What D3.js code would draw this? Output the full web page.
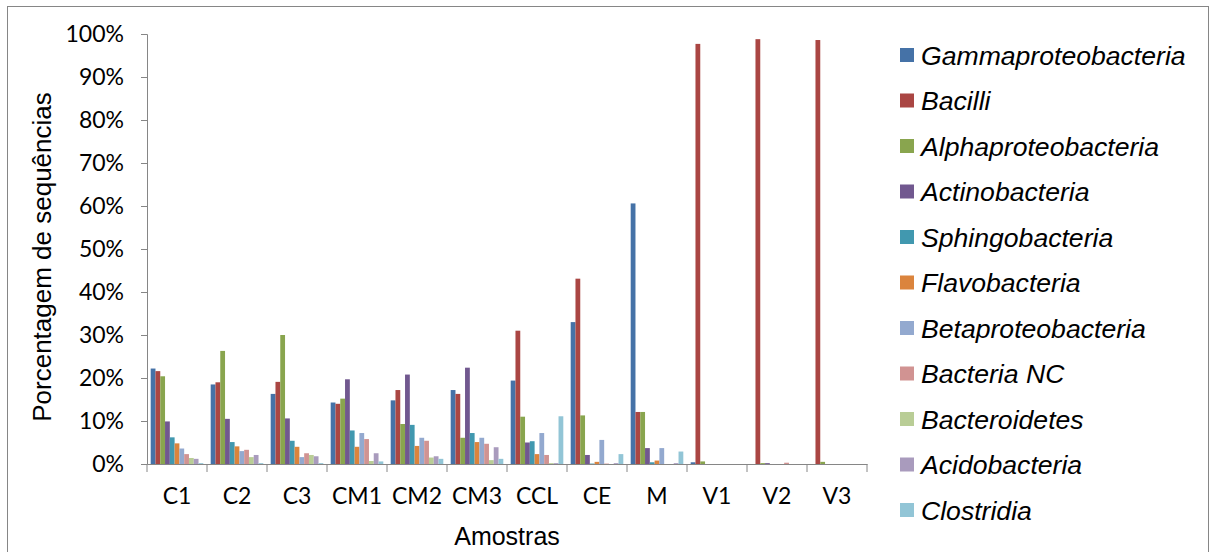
<!DOCTYPE html>
<meta charset="utf-8">
<script src="https://d3js.org/d3.v7.min.js"></script>
<style>
  body { margin: 0; background: #fff; }
  text { fill: #000; }
</style>
<body>
<svg width="1211" height="552"></svg>
<script>
  var samples = ['C1', 'C2', 'C3', 'CM1', 'CM2', 'CM3', 'CCL', 'CE', 'M', 'V1', 'V2', 'V3'];

  var classes = ['Gammaproteobacteria', 'Bacilli', 'Alphaproteobacteria', 'Actinobacteria',
    'Sphingobacteria', 'Flavobacteria', 'Betaproteobacteria', 'Bacteria NC',
    'Bacteroidetes', 'Acidobacteria', 'Clostridia'];

  var colors = ['#4572A7', '#AA4643', '#89A54E', '#71588F', '#4198AF', '#DB843D',
    '#93A9CF', '#D19392', '#B9CD96', '#A99BBD', '#92C5D6'];

  // percentages per class, one value per sample (same order as samples)
  var gamma    = [22.2, 18.5, 16.3, 14.3, 14.8, 17.2, 19.4, 33.0, 60.6, 0.4, 0, 0];
  var bacilli  = [21.6, 19.0, 19.1, 14.0, 17.2, 16.3, 31.0, 43.1, 12.1, 97.7, 98.8, 98.6];
  var alpha    = [20.4, 26.3, 30.0, 15.2, 9.3, 6.1, 11.0, 11.3, 12.1, 0.6, 0.2, 0.5];
  var actino   = [9.9, 10.5, 10.6, 19.7, 20.8, 22.4, 5.0, 2.1, 3.7, 0, 0.2, 0];
  var sphingo  = [6.2, 5.1, 5.4, 7.8, 9.1, 7.2, 5.3, 0.1, 0.4, 0, 0, 0];
  var flavo    = [4.8, 4.1, 4.0, 4.0, 4.2, 5.1, 2.3, 0.5, 0.8, 0, 0, 0];
  var beta     = [3.6, 3.0, 1.6, 7.2, 6.1, 6.1, 7.2, 5.6, 3.7, 0, 0, 0];
  var bactNC   = [2.3, 3.3, 2.5, 5.8, 5.4, 4.7, 2.1, 0.1, 0, 0, 0.3, 0];
  var bacteroi = [1.4, 1.6, 2.1, 0.7, 1.5, 0.9, 0.2, 0, 0, 0, 0, 0];
  var acido    = [1.2, 2.1, 1.8, 2.5, 1.8, 3.9, 0.2, 0.2, 0.2, 0, 0, 0];
  var clost    = [0.2, 0.2, 0.2, 0.6, 1.2, 1.2, 11.1, 2.3, 2.9, 0, 0, 0];

  var series = [gamma, bacilli, alpha, actino, sphingo, flavo, beta, bactNC, bacteroi, acido, clost];

  var yTicks = d3.range(0, 101, 10);

  var svg = d3.select('svg');
  var axisColor = '#868686';

  // outer frame (open at the bottom, it runs off the picture)
  svg.append('rect')
    .attr('x', 7.5).attr('y', 6.5)
    .attr('width', 1201).attr('height', 600)
    .attr('fill', 'none').attr('stroke', axisColor).attr('stroke-width', 1);

  var x0 = d3.scaleBand().domain(samples).range([147, 867]).paddingInner(0.123).paddingOuter(0.0615);
  var x1 = d3.scaleBand().domain(d3.range(classes.length)).range([0, x0.bandwidth()]);
  var y  = d3.scaleLinear().domain([0, 100]).range([464, 34]);

  /* ----------- bars ----------- */

  var groups = svg.append('g').selectAll('g')
    .data(samples)
    .enter().append('g')
    .attr('transform', function(d){ return 'translate(' + x0(d) + ',0)'; });

  groups.selectAll('rect')
    .data(function(d, i){ return series.map(function(s, k){ return {k: k, v: s[i]}; }); })
    .enter().append('rect')
    .attr('x', function(d){ return x1(d.k); })
    .attr('width', x1.bandwidth())
    .attr('y', function(d){ return y(d.v); })
    .attr('height', function(d){ return y(0) - y(d.v); })
    .attr('fill', function(d){ return colors[d.k]; });

  /* ----------- y axis ----------- */

  var yAxis = svg.append('g')
    .attr('transform', 'translate(147,0)')
    .call(d3.axisLeft(y).tickValues(yTicks).tickSize(6).tickPadding(17)
      .tickFormat(function(d){ return d + '%'; }));
  yAxis.select('.domain').attr('stroke', axisColor);
  yAxis.selectAll('.tick line').attr('stroke', axisColor);
  yAxis.selectAll('.tick text')
    .attr('fill', '#000')
    .style('font-family', 'Lato, sans-serif')
    .style('font-size', '23px');

  /* ----------- x axis ----------- */

  var xAxis = svg.append('g')
    .attr('transform', 'translate(0,464)')
    .call(d3.axisBottom(x0).tickSize(0).tickPadding(24).tickSizeOuter(0));
  xAxis.select('.domain').attr('stroke', axisColor);
  xAxis.selectAll('.tick text')
    .attr('fill', '#000')
    .style('font-family', 'Lato, sans-serif')
    .style('font-size', '23px');

  // category separators hang below the axis
  var sepPos = samples.map(function(d){ return x0(d) - x0.step() * x0.paddingInner() / 2; });
  sepPos.push(867);
  svg.append('g').selectAll('line')
    .data(sepPos)
    .enter().append('line')
    .attr('x1', function(d){ return d; }).attr('x2', function(d){ return d; })
    .attr('y1', 464).attr('y2', 472)
    .attr('stroke', axisColor);

  /* ----------- titles ----------- */

  svg.append('text')
    .attr('x', 507).attr('y', 545)
    .attr('text-anchor', 'middle')
    .style('font-family', 'Liberation Sans, Arial, sans-serif')
    .style('font-size', '25px')
    .text('Amostras');

  svg.append('text')
    .attr('transform', 'translate(51,257) rotate(-90)')
    .attr('text-anchor', 'middle')
    .style('font-family', 'Liberation Sans, Arial, sans-serif')
    .style('font-size', '26px')
    .text('Porcentagem de sequências');

  /* ----------- legend ----------- */

  var legend = svg.append('g').selectAll('g')
    .data(classes)
    .enter().append('g')
    .attr('transform', function(d, i){ return 'translate(900,' + (55 + i * 45.5) + ')'; });

  legend.append('rect')
    .attr('x', 0).attr('y', -7)
    .attr('width', 14).attr('height', 14)
    .attr('fill', function(d, i){ return colors[i]; });

  legend.append('text')
    .attr('x', 21).attr('dy', '0.36em')
    .style('font-family', 'Liberation Sans, Arial, sans-serif')
    .style('font-style', 'italic')
    .style('font-size', '26.6px')
    .text(function(d){ return d; });
</script>
</body>
